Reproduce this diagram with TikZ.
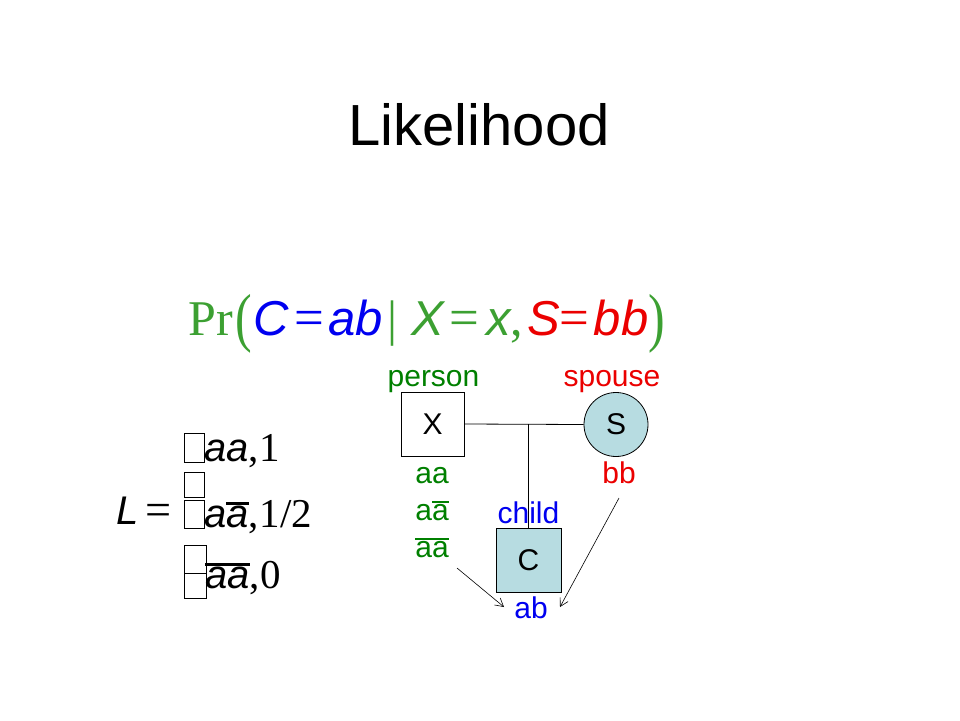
\documentclass[tikz,border=0pt]{standalone}
\usepackage{fontspec}
\setmainfont{Liberation Serif}
\setsansfont{Liberation Sans}
\usetikzlibrary{arrows.meta}
\definecolor{fgreen}{RGB}{60,160,50}
\definecolor{pgreen}{RGB}{0,128,0}
\definecolor{fblue}{RGB}{0,0,240}
\definecolor{fred}{RGB}{235,0,0}
\definecolor{nodefill}{RGB}{183,220,225}
\newcommand\obar[1]{\setbox0\hbox{#1}\rlap{\raisebox{0.56em}{\rule{\wd0}{0.06em}}}\box0}
\newcommand\fs[1]{\fontsize{#1}{#1}\selectfont}
\newcommand\eqsign{\scalebox{1.1}[1.1]{=}}
\begin{document}
\begin{tikzpicture}[x=1pt,y=-1pt,
  txt/.style={inner sep=0pt,anchor=base},
  txtw/.style={inner sep=0pt,anchor=base west},
  fsans/.style={font=\sffamily\itshape\fs{49}},
  fser/.style={font=\rmfamily\fs{50}},
  feq/.style={inner sep=0pt,font=\rmfamily\fs{50}},
  fequal/.style={inner sep=0pt,font=\rmfamily\fs{48}},
  lbl/.style={inner sep=0pt,anchor=base,font=\sffamily\fs{30}},
  pbox/.style={draw,line width=0.8pt,inner sep=0pt,font=\sffamily\fs{30}},
  glyphbox/.style={draw,line width=0.6pt},
  link/.style={line width=0.8pt},
  inherit/.style={line width=0.6pt,-{Straight Barb[length=8pt,width=9pt]}}]
\useasboundingbox (0,0) rectangle (960,720);
\fill[white] (0,0) rectangle (960,720);

% title
\node[txt,font=\sffamily\fs{58}] (title) at (479,145) {Likelihood};

% formula
\node[txt,fser,text=fgreen] (pr) at (211,335) {Pr};
\node[feq,text=fgreen] (lp) at (244,323.5) {\scalebox{1}[1.3]{(}};
\node[txt,fsans,text=fblue] (fc) at (271,335) {C};
\node[fequal,text=fblue] (eq1) at (309.5,323.5) {\eqsign};
\node[txt,fsans,text=fblue] (fab) at (356,335) {ab};
\node[txt,fser,text=fgreen] (bar) at (392,335) {|};
\node[txt,fsans,text=fgreen] (fx) at (428,335) {X};
\node[fequal,text=fgreen] (eq2) at (464.5,323.5) {\eqsign};
\node[txt,fsans,text=fgreen] (fxs) at (499,335) {x};
\node[txt,fser,text=fgreen] (comma) at (517,335) {,};
\node[txt,fsans,text=fred] (fs) at (544,335) {S};
\node[fequal,text=fred] (eq3) at (574,323.5) {\eqsign};
\node[txt,fsans,text=fred] (fbb) at (621,335) {bb};
\node[feq,text=fgreen] (rp) at (657,323.5) {\scalebox{1}[1.3]{)}};

% L equation
\node[txt,font=\sffamily\itshape\fs{40}] (L) at (127.5,524) {L};
\node[inner sep=0pt,font=\rmfamily\fs{42}] (leq) at (158.5,514.5) {\eqsign};
\draw[glyphbox] (184,433) rectangle (204,462);
\draw[glyphbox] (184,472) rectangle (204,497);
\draw[glyphbox] (184,500) rectangle (204,528);
\draw[glyphbox] (184,545) rectangle (206,598);
\draw[glyphbox] (184,573) -- (206,573);
\node[txtw] (row1) at (204,461) {{\sffamily\itshape\fs{40}aa}{\rmfamily\fs{41},\kern1pt1}};
\node[txtw] (row2) at (204,527) {{\sffamily\itshape\fs{40}a\obar{a}}{\rmfamily\fs{41},\kern1pt1/2}};
\node[txtw] (row3) at (205,588) {{\sffamily\itshape\fs{40}\obar{aa}}{\rmfamily\fs{41},\kern1pt0}};

% pedigree
\node[pbox,minimum width=63pt,minimum height=64pt] (X) at (432.5,424) {X};
\node[pbox,circle,fill=nodefill,minimum size=64pt] (S) at (616,424.5) {S};
\node[pbox,fill=nodefill,minimum width=65pt,minimum height=64pt] (C) at (528.5,560) {C};
\coordinate (mid) at (528,424);
\draw[link] (X.east) -- (S.west);
\draw[link] (mid) -- (mid |- C.north);

\node[lbl,text=pgreen] (person) at (433.5,386) {person};
\node[lbl,text=fred] (spouse) at (612,386) {spouse};
\node[lbl,text=pgreen] (g1) at (432,483) {aa};
\node[lbl,text=pgreen] (g2) at (432,520) {a\obar{a}};
\node[lbl,text=pgreen] (g3) at (432,557) {\obar{a}\obar{a}};
\node[lbl,text=fred] (sbb) at (619,483) {bb};
\node[lbl,text=fblue] (child) at (528.5,523) {child};
\node[lbl,text=fblue] (cab) at (531,618) {ab};

\coordinate (a1s) at (457,568);
\coordinate (a1e) at (504,607);
\coordinate (a2s) at (619,498);
\coordinate (a2e) at (560,607);
\draw[inherit] (a1s) -- (a1e);
\draw[inherit] (a2s) -- (a2e);
\end{tikzpicture}
\end{document}
